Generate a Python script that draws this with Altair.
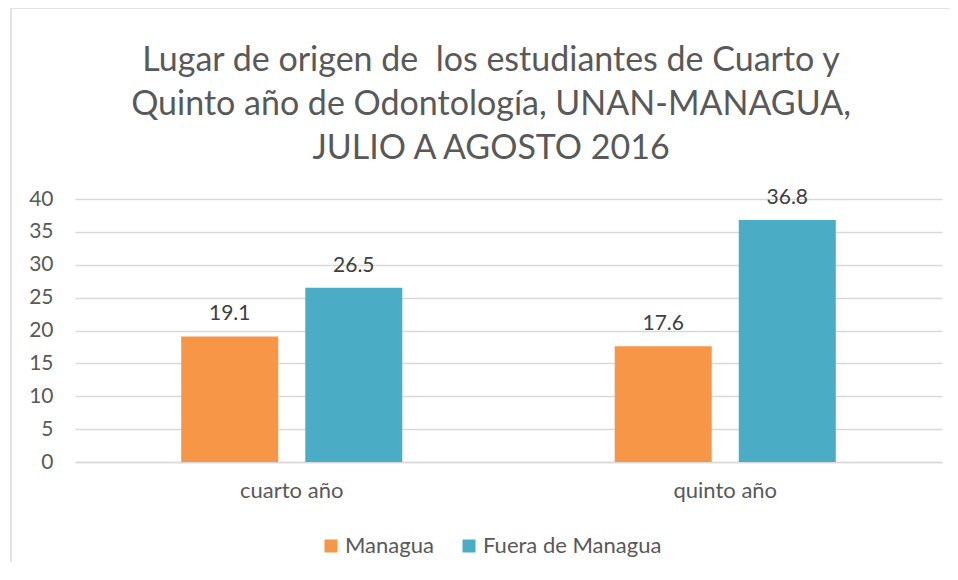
import altair as alt
import pandas as pd

years = ["cuarto año", "quinto año"]
series = ["Managua", "Fuera de Managua"]
managua = [19.1, 17.6]
fuera = [26.5, 36.8]
colors = ["#F79646", "#4BACC6"]
title_lines = ["Lugar de origen de\u00a0 los estudiantes de Cuarto y",
               "Quinto año de Odontología, UNAN-MANAGUA,",
               "JULIO A AGOSTO 2016"]

rows = []
for i, y in enumerate(years):
    rows.append({"año": y, "serie": series[0], "valor": managua[i]})
    rows.append({"año": y, "serie": series[1], "valor": fuera[i]})
df = pd.DataFrame(rows)

FONT = "Lato"
GREY = "#595959"

x = alt.X("año:N", sort=years, title=None,
          scale=alt.Scale(paddingInner=0.49, paddingOuter=0.245),
          axis=alt.Axis(labelAngle=0, labelFontSize=22, labelColor=GREY, labelFont=FONT,
                        ticks=False, domainColor="#d9d9d9", domainWidth=1.5, labelPadding=18))
xo = alt.XOffset("serie:N", sort=series, scale=alt.Scale(paddingInner=0.218, paddingOuter=0))
y = alt.Y("valor:Q", title=None,
          scale=alt.Scale(domain=[0, 40]),
          axis=alt.Axis(values=list(range(0, 45, 5)), labelFontSize=21, labelColor=GREY,
                        labelFont=FONT, ticks=False, domain=False, gridColor="#d9d9d9",
                        gridWidth=1.5, labelPadding=22))

color = alt.Color("serie:N", sort=series,
                  scale=alt.Scale(domain=series, range=colors),
                  legend=alt.Legend(title=None, orient="none", direction="horizontal",
                                    legendX=245, legendY=336, symbolType="square",
                                    symbolSize=169, symbolStrokeWidth=0, labelFontSize=22,
                                    labelColor=GREY, labelFont=FONT, columnPadding=24,
                                    labelOffset=3, padding=0, labelLimit=400))

base = alt.Chart(df).encode(x=x, xOffset=xo, y=y)
bars = base.mark_bar(opacity=1).encode(color=color)
labels = base.mark_text(dy=-12, fontSize=21, color="#404040", font=FONT, baseline="bottom").encode(
    text=alt.Text("valor:Q", format=".1f"))

frame = alt.Chart(pd.DataFrame({"a": [0]})).mark_rect(
    fill=None, stroke="#d9d9d9", strokeWidth=1.5).encode(
    x=alt.value(-64), x2=alt.value(1500), y=alt.value(-191), y2=alt.value(1000))

title = alt.Chart(pd.DataFrame({"a": [0]})).mark_text(
    text=title_lines, fontSize=34, font=FONT, color=GREY, align="center",
    baseline="alphabetic", lineHeight=44).encode(
    x=alt.value(416), y=alt.value(-128))

chart = alt.layer(frame, title, bars, labels).properties(
    width=867, height=263,
    autosize=alt.AutoSizeParams(type="none"),
    padding={"left": 67, "top": 191, "right": 8, "bottom": 100},
).configure_view(stroke=None)

chart.save("out.html", embed_options={"renderer": "svg", "actions": False})
